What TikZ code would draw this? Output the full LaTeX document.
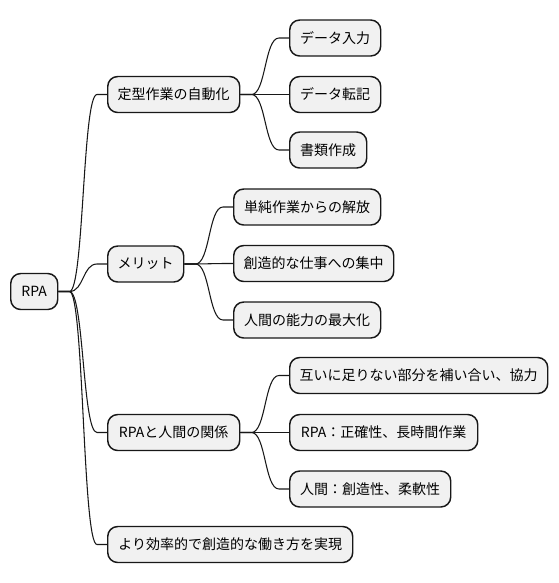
\documentclass[tikz,border=0pt]{standalone}
\usepackage{fontspec}
\newfontfamily\jp{Noto Sans CJK JP}
\usetikzlibrary{calc}
\definecolor{boxgray}{HTML}{F1F1F1}
\definecolor{edge}{HTML}{181818}
\tikzset{
  x=0.75pt, y=-0.75pt,
  box/.style={draw=edge, fill=boxgray, rounded corners=7.5pt, line width=1.1pt,
    minimum height=27pt, inner sep=0pt, anchor=west, text=black,
    font=\jp\fontsize{10.5}{12}\selectfont},
  link/.style={draw=edge, line width=0.8pt},
}
\newcommand\mmconn[2]{%
  \draw[link] (#1.east) -- ++(11,0) coordinate (#1-#2-s)
    .. controls ($(#1-#2-s)+(14.5,0)$) and ($(#2.west)+(-24.5,0)$) .. ($(#2.west)+(-10,0)$) -- (#2.west);}
\begin{document}
\begin{tikzpicture}
\useasboundingbox (0,0) rectangle (558,583);
\node[box, minimum width=35.25pt] (rpa) at (10,291.5) {RPA};
\node[box, minimum width=99pt] (teikei) at (107,94.5) {定型作業の自動化};
\node[box, minimum width=57pt] (merit) at (107,264) {メリット};
\node[box, minimum width=99pt] (kankei) at (107,432.5) {RPAと人間の関係};
\node[box, minimum width=183.75pt] (kouritsu) at (107,544.5) {より効率的で創造的な働き方を実現};
\node[box, minimum width=68.25pt] (nyuryoku) at (289,38) {データ入力};
\node[box, minimum width=68.25pt] (tenki) at (289,94.5) {データ転記};
\node[box, minimum width=57.75pt] (shorui) at (289,150) {書類作成};
\node[box, minimum width=110.25pt] (kaiho) at (233,207) {単純作業からの解放};
\node[box, minimum width=120pt] (shuchu) at (233,263.5) {創造的な仕事への集中};
\node[box, minimum width=110.25pt] (saidai) at (233,320) {人間の能力の最大化};
\node[box, minimum width=193.5pt] (kyoryoku) at (289,375.5) {互いに足りない部分を補い合い、協力};
\node[box, minimum width=141pt] (seikaku) at (289,432.5) {RPA：正確性、長時間作業};
\node[box, minimum width=120.75pt] (ningen) at (289,489) {人間：創造性、柔軟性};
\mmconn{rpa}{teikei}
\mmconn{rpa}{merit}
\mmconn{rpa}{kankei}
\mmconn{rpa}{kouritsu}
\mmconn{teikei}{nyuryoku}
\mmconn{teikei}{tenki}
\mmconn{teikei}{shorui}
\mmconn{merit}{kaiho}
\mmconn{merit}{shuchu}
\mmconn{merit}{saidai}
\mmconn{kankei}{kyoryoku}
\mmconn{kankei}{seikaku}
\mmconn{kankei}{ningen}
\end{tikzpicture}
\end{document}
